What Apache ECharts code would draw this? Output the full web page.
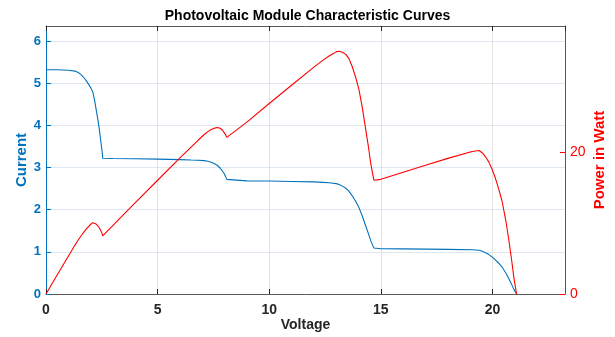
<!DOCTYPE html>
<html>
<head>
<meta charset="utf-8">
<script src="https://cdn.jsdelivr.net/npm/echarts@6/dist/echarts.min.js"></script>
<style>html,body{margin:0;padding:0;background:#fff}#c{width:615px;height:337px}</style>
</head>
<body>
<div id="c"></div>
<script>
// Voltage samples (V)
const voltage = [0, 0.5, 1.0, 1.3, 1.4, 1.49, 1.6, 1.72, 1.83, 1.94, 2.02, 2.09, 2.17, 2.24, 2.32, 2.39, 2.45, 2.51, 2.54,
  3.0, 4.0, 5.0, 6.0, 6.5, 6.8, 7.09, 7.25, 7.4, 7.55, 7.68, 7.8, 7.9, 7.98, 8.05, 8.1, 8.13,
  9.0, 10.0, 11.0, 12.0, 12.4, 12.68, 12.85, 13.0, 13.13, 13.28, 13.43, 13.57, 13.72, 13.87, 14.02, 14.17, 14.32, 14.44, 14.55, 14.63, 14.69,
  15.0, 16.0, 17.0, 18.0, 19.09, 19.25, 19.4, 19.55, 19.69, 19.84, 19.98, 20.13, 20.28, 20.43, 20.6, 20.73, 20.85, 20.96, 21.08];
// Current (A)
const current = [5.32, 5.32, 5.31, 5.29, 5.27, 5.24, 5.19, 5.12, 5.04, 4.95, 4.88, 4.80, 4.62, 4.40, 4.15, 3.90, 3.65, 3.40, 3.22,
  3.215, 3.21, 3.20, 3.19, 3.18, 3.175, 3.165, 3.15, 3.125, 3.09, 3.05, 2.99, 2.92, 2.86, 2.78, 2.72, 2.69,
  2.685, 2.68, 2.67, 2.66, 2.65, 2.64, 2.63, 2.62, 2.60, 2.56, 2.51, 2.44, 2.33, 2.20, 2.05, 1.85, 1.62, 1.44, 1.26, 1.16, 1.09,
  1.075, 1.07, 1.065, 1.06, 1.05, 1.045, 1.04, 1.015, 0.98, 0.935, 0.88, 0.81, 0.73, 0.64, 0.50, 0.37, 0.24, 0.11, 0];
// Power (W)
const power = [0, 2.66, 5.31, 6.88, 7.38, 7.81, 8.30, 8.81, 9.22, 9.60, 9.86, 10.03, 10.03, 9.86, 9.63, 9.32, 8.94, 8.53, 8.18,
  9.65, 12.84, 16.0, 19.14, 20.67, 21.59, 22.44, 22.84, 23.13, 23.33, 23.42, 23.32, 23.07, 22.82, 22.38, 22.03, 21.87,
  24.17, 26.8, 29.37, 31.92, 32.86, 33.48, 33.80, 34.06, 34.14, 34.0, 33.71, 33.11, 31.97, 30.51, 28.74, 26.21, 23.2, 20.79, 18.33, 16.97, 16.01,
  16.13, 17.12, 18.1, 19.08, 20.04, 20.12, 20.18, 19.84, 19.30, 18.55, 17.58, 16.31, 14.8, 13.08, 10.3, 7.67, 5.0, 2.31, 0];

const FONT = "'Liberation Sans', Arial, Helvetica, sans-serif";
const BLUE = '#0072BD', RED = '#FF0000';

const chart = echarts.init(document.getElementById('c'), null, {renderer: 'canvas'});
chart.setOption({
  animation: false,
  title: {
    text: 'Photovoltaic Module Characteristic Curves',
    left: 'center', top: 4,
    textStyle: {fontFamily: FONT, fontSize: 14, fontWeight: 'bold', color: '#000'}
  },
  grid: {left: 46, right: 49, top: 26, bottom: 40, containLabel: false},
  xAxis: [{
    type: 'value', min: 0, max: 23.25, interval: 5, position: 'bottom',
    name: 'Voltage', nameLocation: 'middle', nameGap: 24, nameMoveOverlap: false,
    nameTextStyle: {fontFamily: FONT, fontSize: 14, fontWeight: 'bold', color: '#262626'},
    axisLine: {onZero: false, lineStyle: {color: '#5a5a5a', width: 1}},
    axisTick: {inside: true, length: 5, lineStyle: {color: '#262626'}},
    axisLabel: {showMaxLabel: false, fontFamily: FONT, fontSize: 14, fontWeight: 'bold', color: '#262626', margin: 9},
    splitLine: {show: true, lineStyle: {color: '#e3e3e3', width: 1}}
  }, {
    type: 'value', min: 0, max: 23.25, interval: 5, position: 'top',
    axisLine: {show: true, onZero: false, lineStyle: {color: '#5a5a5a', width: 1}},
    axisTick: {inside: true, length: 5, lineStyle: {color: '#262626'}},
    axisLabel: {show: false}, splitLine: {show: false}
  }],
  yAxis: [{
    type: 'value', min: 0, max: 6.36, interval: 1, position: 'left',
    name: 'Current', nameLocation: 'middle', nameGap: 17, nameMoveOverlap: false,
    nameTextStyle: {fontFamily: FONT, fontSize: 15, fontWeight: 'bold', color: BLUE},
    axisLine: {show: true, onZero: false, lineStyle: {color: BLUE, width: 1}},
    axisTick: {show: true, inside: true, length: 5, lineStyle: {color: BLUE}},
    axisLabel: {showMaxLabel: false, fontFamily: FONT, fontSize: 13, fontWeight: 'bold', color: BLUE, margin: 5},
    splitLine: {show: true, lineStyle: {color: '#dfe8f1', width: 1}}
  }, {
    type: 'value', min: 0, max: 37.7, interval: 20, position: 'right',
    name: 'Power in Watt', nameLocation: 'middle', nameGap: 27, nameMoveOverlap: false,
    nameTextStyle: {fontFamily: FONT, fontSize: 15, fontWeight: 'bold', color: RED},
    axisLine: {show: true, onZero: false, lineStyle: {color: '#cc2233', width: 1}},
    axisTick: {show: true, inside: true, length: 5, lineStyle: {color: RED}},
    axisLabel: {showMaxLabel: false, fontFamily: FONT, fontSize: 14, color: RED, margin: 5},
    splitLine: {show: false}
  }],
  series: [{
    name: 'Current', type: 'line', xAxisIndex: 0, yAxisIndex: 0,
    data: voltage.map((v, i) => [v, current[i]]),
    showSymbol: false, symbol: 'none',
    lineStyle: {color: BLUE, width: 1.1}, z: 3
  }, {
    name: 'Power', type: 'line', xAxisIndex: 0, yAxisIndex: 1,
    data: voltage.map((v, i) => [v, power[i]]),
    showSymbol: false, symbol: 'none',
    lineStyle: {color: RED, width: 1.1}, z: 3
  }]
});
</script>
</body>
</html>
